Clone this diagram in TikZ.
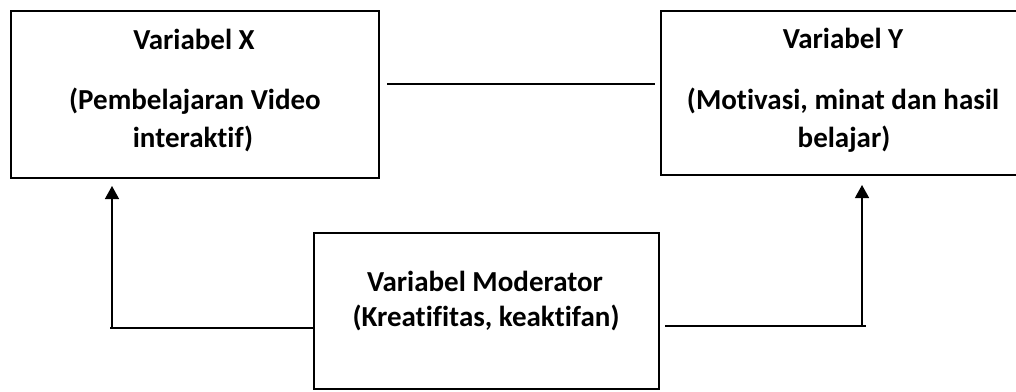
\documentclass[tikz,border=0pt]{standalone}
\usepackage{fontspec}
\setmainfont{Carlito}[Ligatures={NoCommon}]
\usetikzlibrary{arrows.meta,calc}
\tikzset{
  box/.style={draw=black, line width=2pt, rectangle, inner sep=0pt, anchor=north west},
  lbl/.style={anchor=base, inner sep=0pt, font=\bfseries\fontsize{29}{35}\selectfont},
  hline/.style={draw=black, line width=2pt},
  vline/.style={draw=black, line width=1.4pt, -{Triangle[length=13pt,width=14pt]}},
}
\begin{document}
\begin{tikzpicture}[x=1pt,y=-1pt]
\useasboundingbox (0,0) rectangle (1016,391);
\clip (0,0) rectangle (1016,391);
% boxes
\node[box, minimum width=368pt, minimum height=167pt] (X) at (10,10) {};
\node[box, minimum width=366pt, minimum height=164pt] (Y) at (660,10) {};
\node[box, minimum width=345pt, minimum height=156pt] (M) at (313,232) {};
% texts
\node[lbl] (x1) at (194,49) {Variabel X};
\node[lbl] (x2) at (195,109) {(Pembelajaran Video};
\node[lbl] (x3) at (193,147) {interaktif)};
\node[lbl] (y1) at (843,48) {Variabel Y};
\node[lbl] (y2) at (843,109) {(Motivasi, minat dan hasil};
\node[lbl] (y3) at (844,147) {belajar)};
\node[lbl] (m1) at (485,291) {Variabel Moderator};
\node[lbl] (m2) at (486,326) {(Kreatifitas, keaktifan)};
% connectors
\coordinate (h) at (0,84);
\draw[hline, shorten <=7pt, shorten >=5pt] (X.east |- h) -- (Y.west |- h);
\coordinate (cL) at (112,328);
\coordinate (cR) at (862,326);
\draw[hline] (M.west |- cL) -- ([xshift=-2pt]cL);
\draw[vline, shorten >=7pt] (cL) -- (cL |- X.south);
\draw[hline, shorten <=5pt] (M.east |- cR) -- ([xshift=4pt]cR);
\draw[vline, shorten >=9pt] (cR) -- (cR |- Y.south);
\end{tikzpicture}
\end{document}
